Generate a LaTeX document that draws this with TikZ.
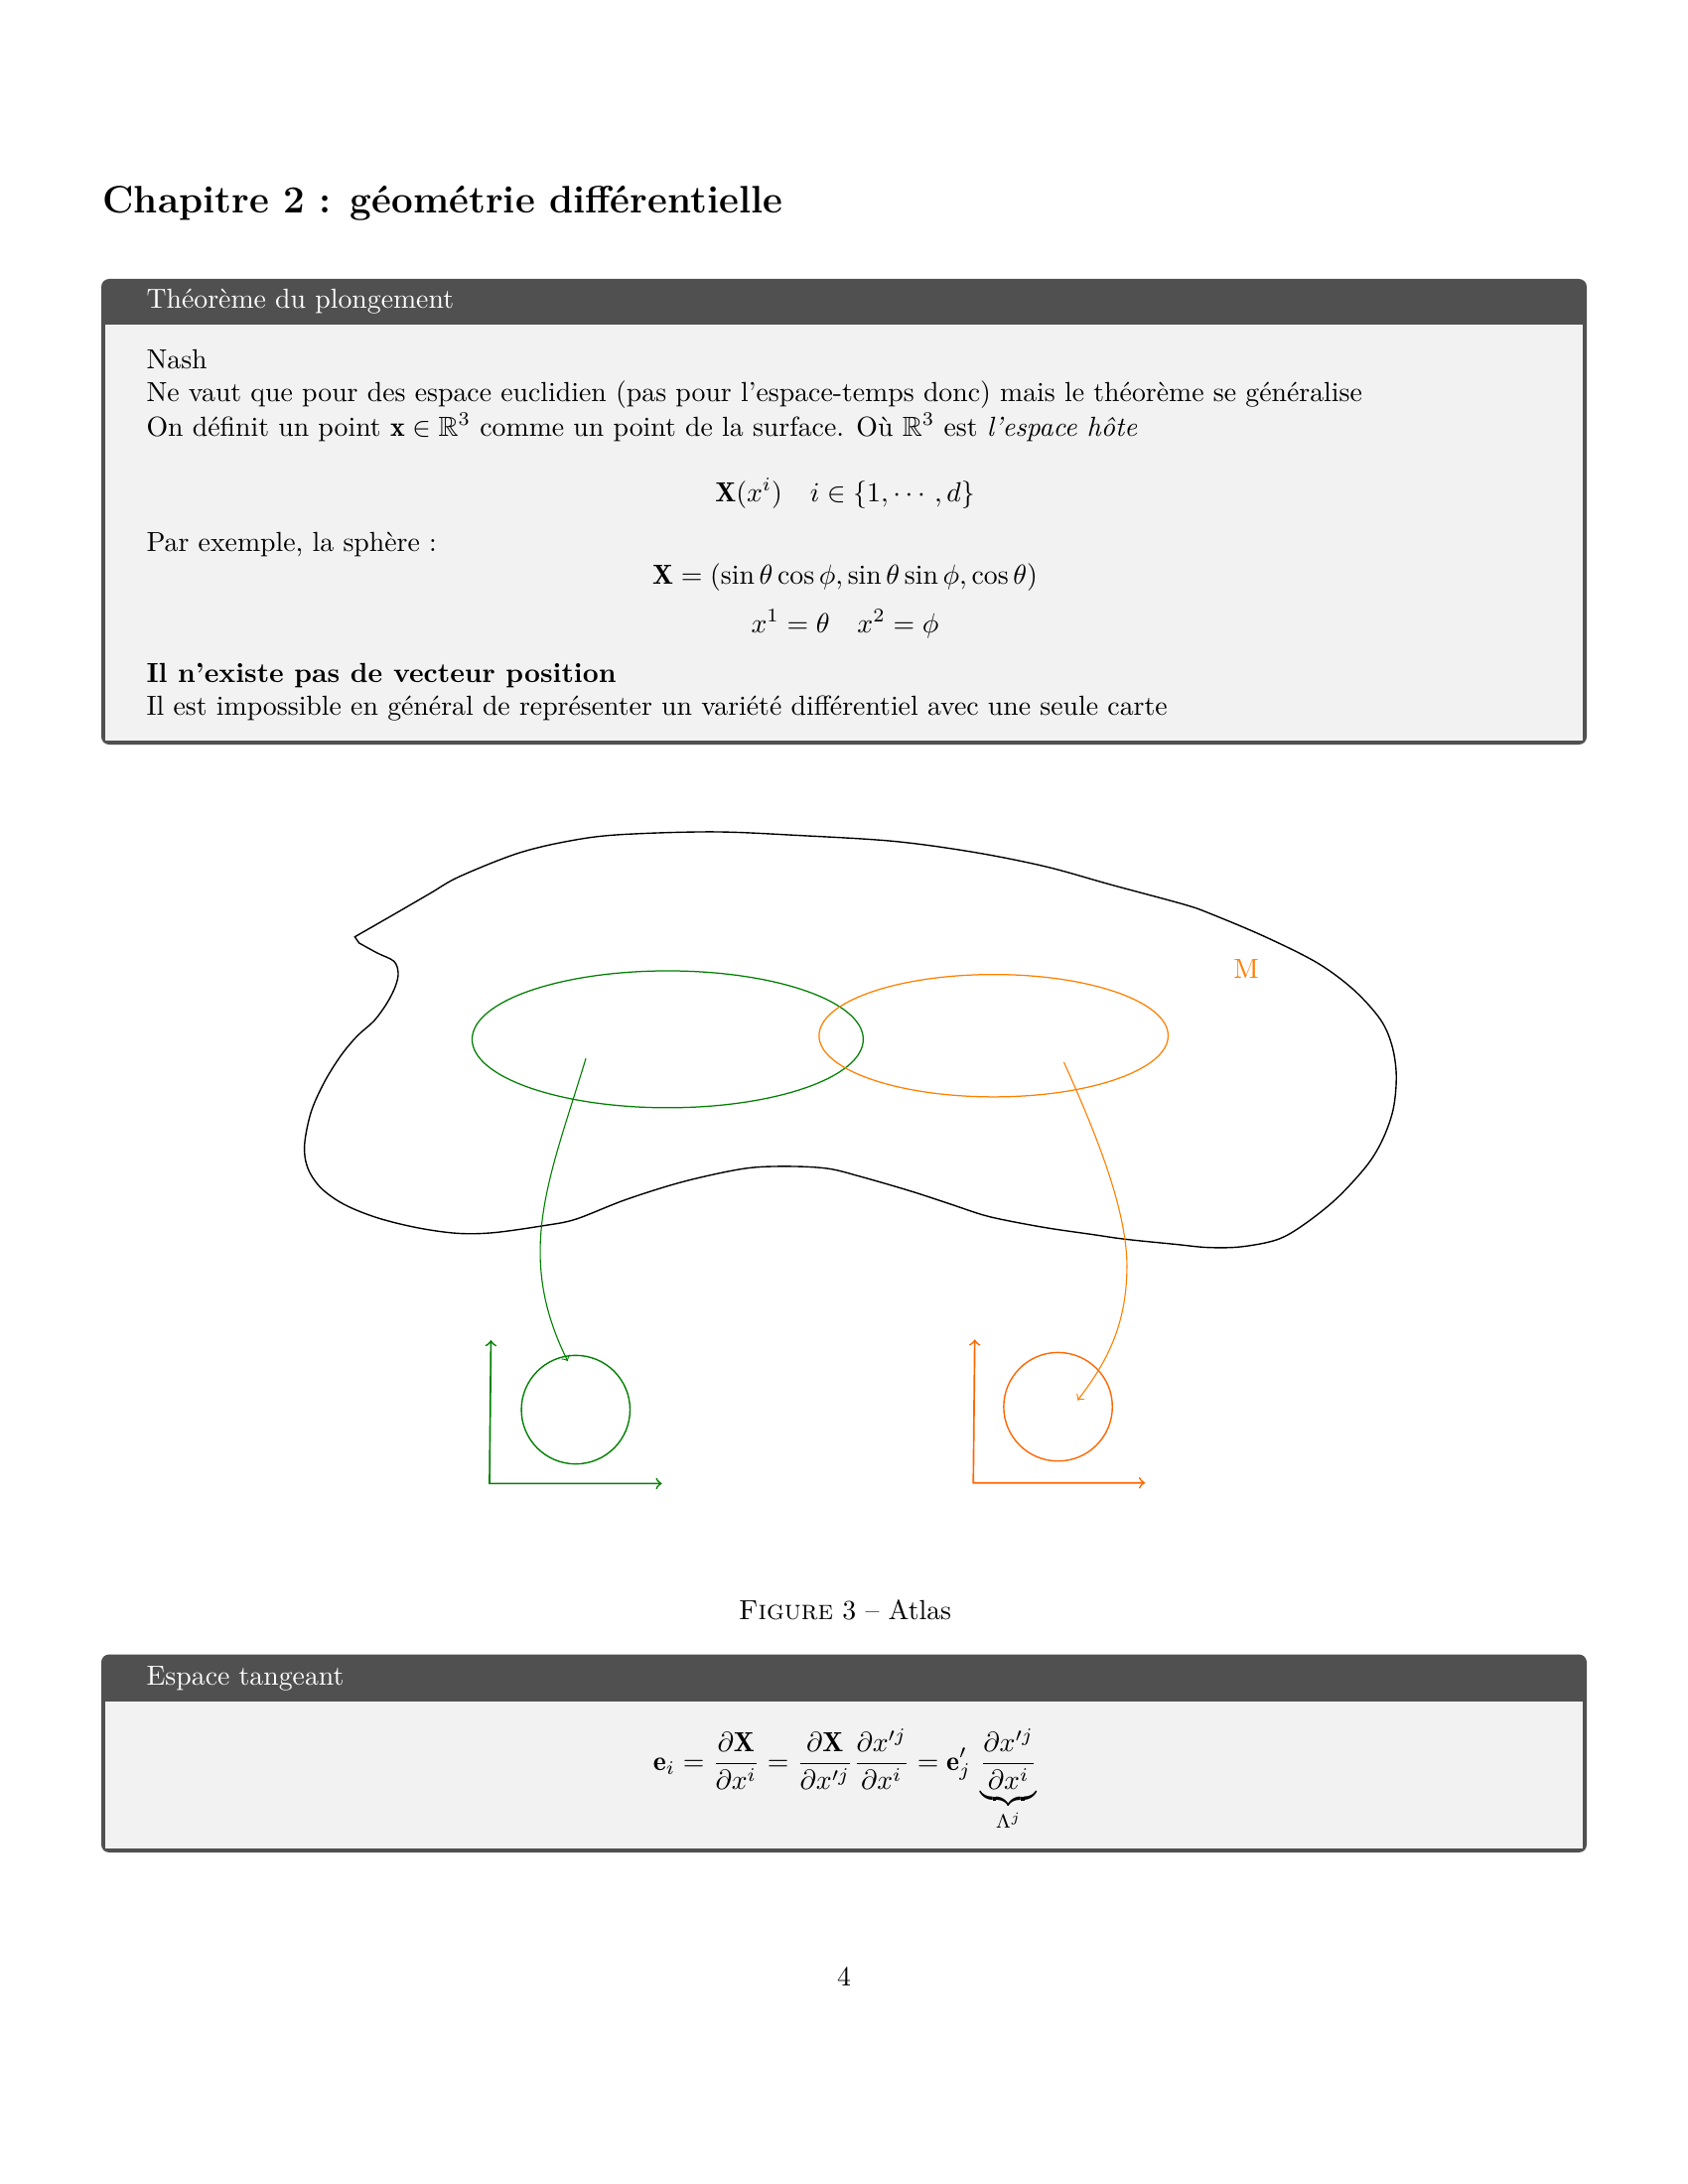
\documentclass[tikz,border=0pt]{standalone}
\usepackage{amsmath,amssymb}
\usepackage{fontspec}
\definecolor{framecol}{RGB}{80,80,80}
\definecolor{backcol}{RGB}{242,242,242}
\definecolor{darkgreen}{RGB}{0,128,0}
\definecolor{lightorange}{RGB}{255,128,0}
\definecolor{deeporange}{RGB}{255,102,0}
\tikzset{
  txt/.style={inner sep=0pt, anchor=base west},
  ceq/.style={inner sep=0pt, anchor=base},
  boxframe/.style={fill=framecol, rounded corners=2.85pt},
  boxbody/.style={fill=backcol},
  blobline/.style={draw=black, line width=0.5pt},
  gline/.style={draw=darkgreen, line width=0.45pt},
  oline/.style={draw=lightorange, line width=0.45pt},
  gaxis/.style={draw=darkgreen, line width=0.6pt},
  oaxis/.style={draw=deeporange, line width=0.6pt},
  garrow/.style={draw=darkgreen, line width=0.4pt, ->},
  oarrow/.style={draw=lightorange, line width=0.4pt, ->},
}
\begin{document}
\begin{tikzpicture}[x=0.36pt,y=-0.36pt]
\useasboundingbox (0,0) rectangle (1700,2200);

% section title
\node[txt,font=\fontsize{13.9}{17}\selectfont\bfseries] (sec) at (103,215) {Chapitre 2 : géométrie différentielle};

% ---------- box 1 ----------
\fill[boxframe] (102,281) rectangle (1598,750);
\fill[boxbody] (106,327.5) rectangle (1594,746);
\node[txt,text=white] (t1) at (147,311) {Théorème du plongement};
\node[txt] (l1) at (147,371) {Nash};
\node[txt] (l2) at (147,405) {Ne vaut que pour des espace euclidien (pas pour l'espace-temps donc) mais le théorème se généralise};
\node[txt] (l3) at (147,439) {On définit un point $\mathbf{x}\in\mathbb{R}^3$ comme un point de la surface. Où $\mathbb{R}^3$ est \textit{l'espace hôte}};
\node[ceq] (e1) at (851,505) {$\mathbf{X}(x^i)\quad i\in\{1,\cdots,d\}$};
\node[txt] (l4) at (147,555) {Par exemple, la sphère :};
\node[ceq] (e2) at (851,588) {$\mathbf{X}=(\sin\theta\cos\phi,\sin\theta\sin\phi,\cos\theta)$};
\node[ceq] (e3) at (851,637) {$x^1=\theta\quad x^2=\phi$};
\node[txt,font=\bfseries] (l5) at (147,687.5) {Il n'existe pas de vecteur position};
\node[txt] (l6) at (147,720) {Il est impossible en général de représenter un variété différentiel avec une seule carte};

% ---------- figure ----------
\begin{scope}[shift={(280,800)}, scale=0.7294]
\draw[blobline] plot[smooth, tension=0.55] coordinates {
 (106,197) (160,166) (210,137) (250,114) (330,82) (400,65) (470,56) (600,52) (720,57)
 (850,65) (960,80) (1060,100) (1150,125) (1250,152) (1286,164.5) (1362,196.5) (1435,233)
 (1485,270) (1522,311) (1538,347) (1544,388) (1540,434) (1526,475) (1504,512) (1462,558)
 (1417,594) (1380,615) (1330,625) (1284,626) (1238,621.5) (1170,614.6) (1124,608)
 (1065,599.5) (1010,589.5) (973,581) (928,566) (873,548) (804,528) (759,517) (704,514)
 (644,517) (560,535) (480,560) (411,587) (366,596) (297,605.6) (247,606.4) (192,598.7)
 (137,585) (91.4,566.6) (59.4,543.9) (41.1,516.4) (36.6,484.4) (45.7,438.7) (64,397.6)
 (86.8,361) (109.7,333.6) (132.6,313) (150.8,287.9) (162.2,265) (165.9,246.8) (160,230.7)
 (137.1,219.4) (112,205.6)} -- cycle;

\draw[gline] (538,338.5) ellipse [x radius=270, y radius=94.5];
\draw[oline] (988,333.5) ellipse [x radius=241, y radius=84.5];
\node[text=lightorange, inner sep=0pt] (M) at (1337,241) {M};

% green chart
\coordinate (go) at (292,952);
\coordinate (gy) at (294,754);
\coordinate (gx) at (530,952);
\draw[gaxis,<->] (gy) -- (go) -- (gx);
\draw[gaxis, line width=0.5pt] (411,850) circle [radius=75];

% orange chart
\coordinate (oo) at (960,951);
\coordinate (oy) at (962,753);
\coordinate (ox) at (1197,951);
\draw[oaxis,<->] (oy) -- (oo) -- (ox);
\draw[oaxis, line width=0.5pt] (1077,846) circle [radius=75];

% arrows
\coordinate (gs) at (425,365);
\coordinate (ge) at (400,783);
\draw[garrow] (gs) .. controls (375,530) and (326,634) .. (ge);
\coordinate (os) at (1085,370);
\coordinate (om) at (1172,660);
\coordinate (oe) at (1104,837);
\draw[oarrow] (os) .. controls (1130,470) and (1175,580) .. (om) .. controls (1170,740) and (1140,790) .. (oe);
\end{scope}

\node[ceq] (cap) at (851,1631) {\textsc{Figure} 3 -- Atlas};

% ---------- box 2 ----------
\fill[boxframe] (102,1666.5) rectangle (1598,1866);
\fill[boxbody] (106,1714) rectangle (1594,1862);
\node[txt,text=white] (t2) at (147,1697) {Espace tangeant};
\node[ceq] (e4) at (851,1783) {$\displaystyle \mathbf{e}_i=\frac{\partial\mathbf{X}}{\partial x^i}=\frac{\partial\mathbf{X}}{\partial x'^j}\frac{\partial x'^j}{\partial x^i}=\mathbf{e}'_j\,\underbrace{\frac{\partial x'^j}{\partial x^i}}_{\Lambda^j}$};

\node[ceq] (pg) at (850,2000) {4};
\end{tikzpicture}
\end{document}
